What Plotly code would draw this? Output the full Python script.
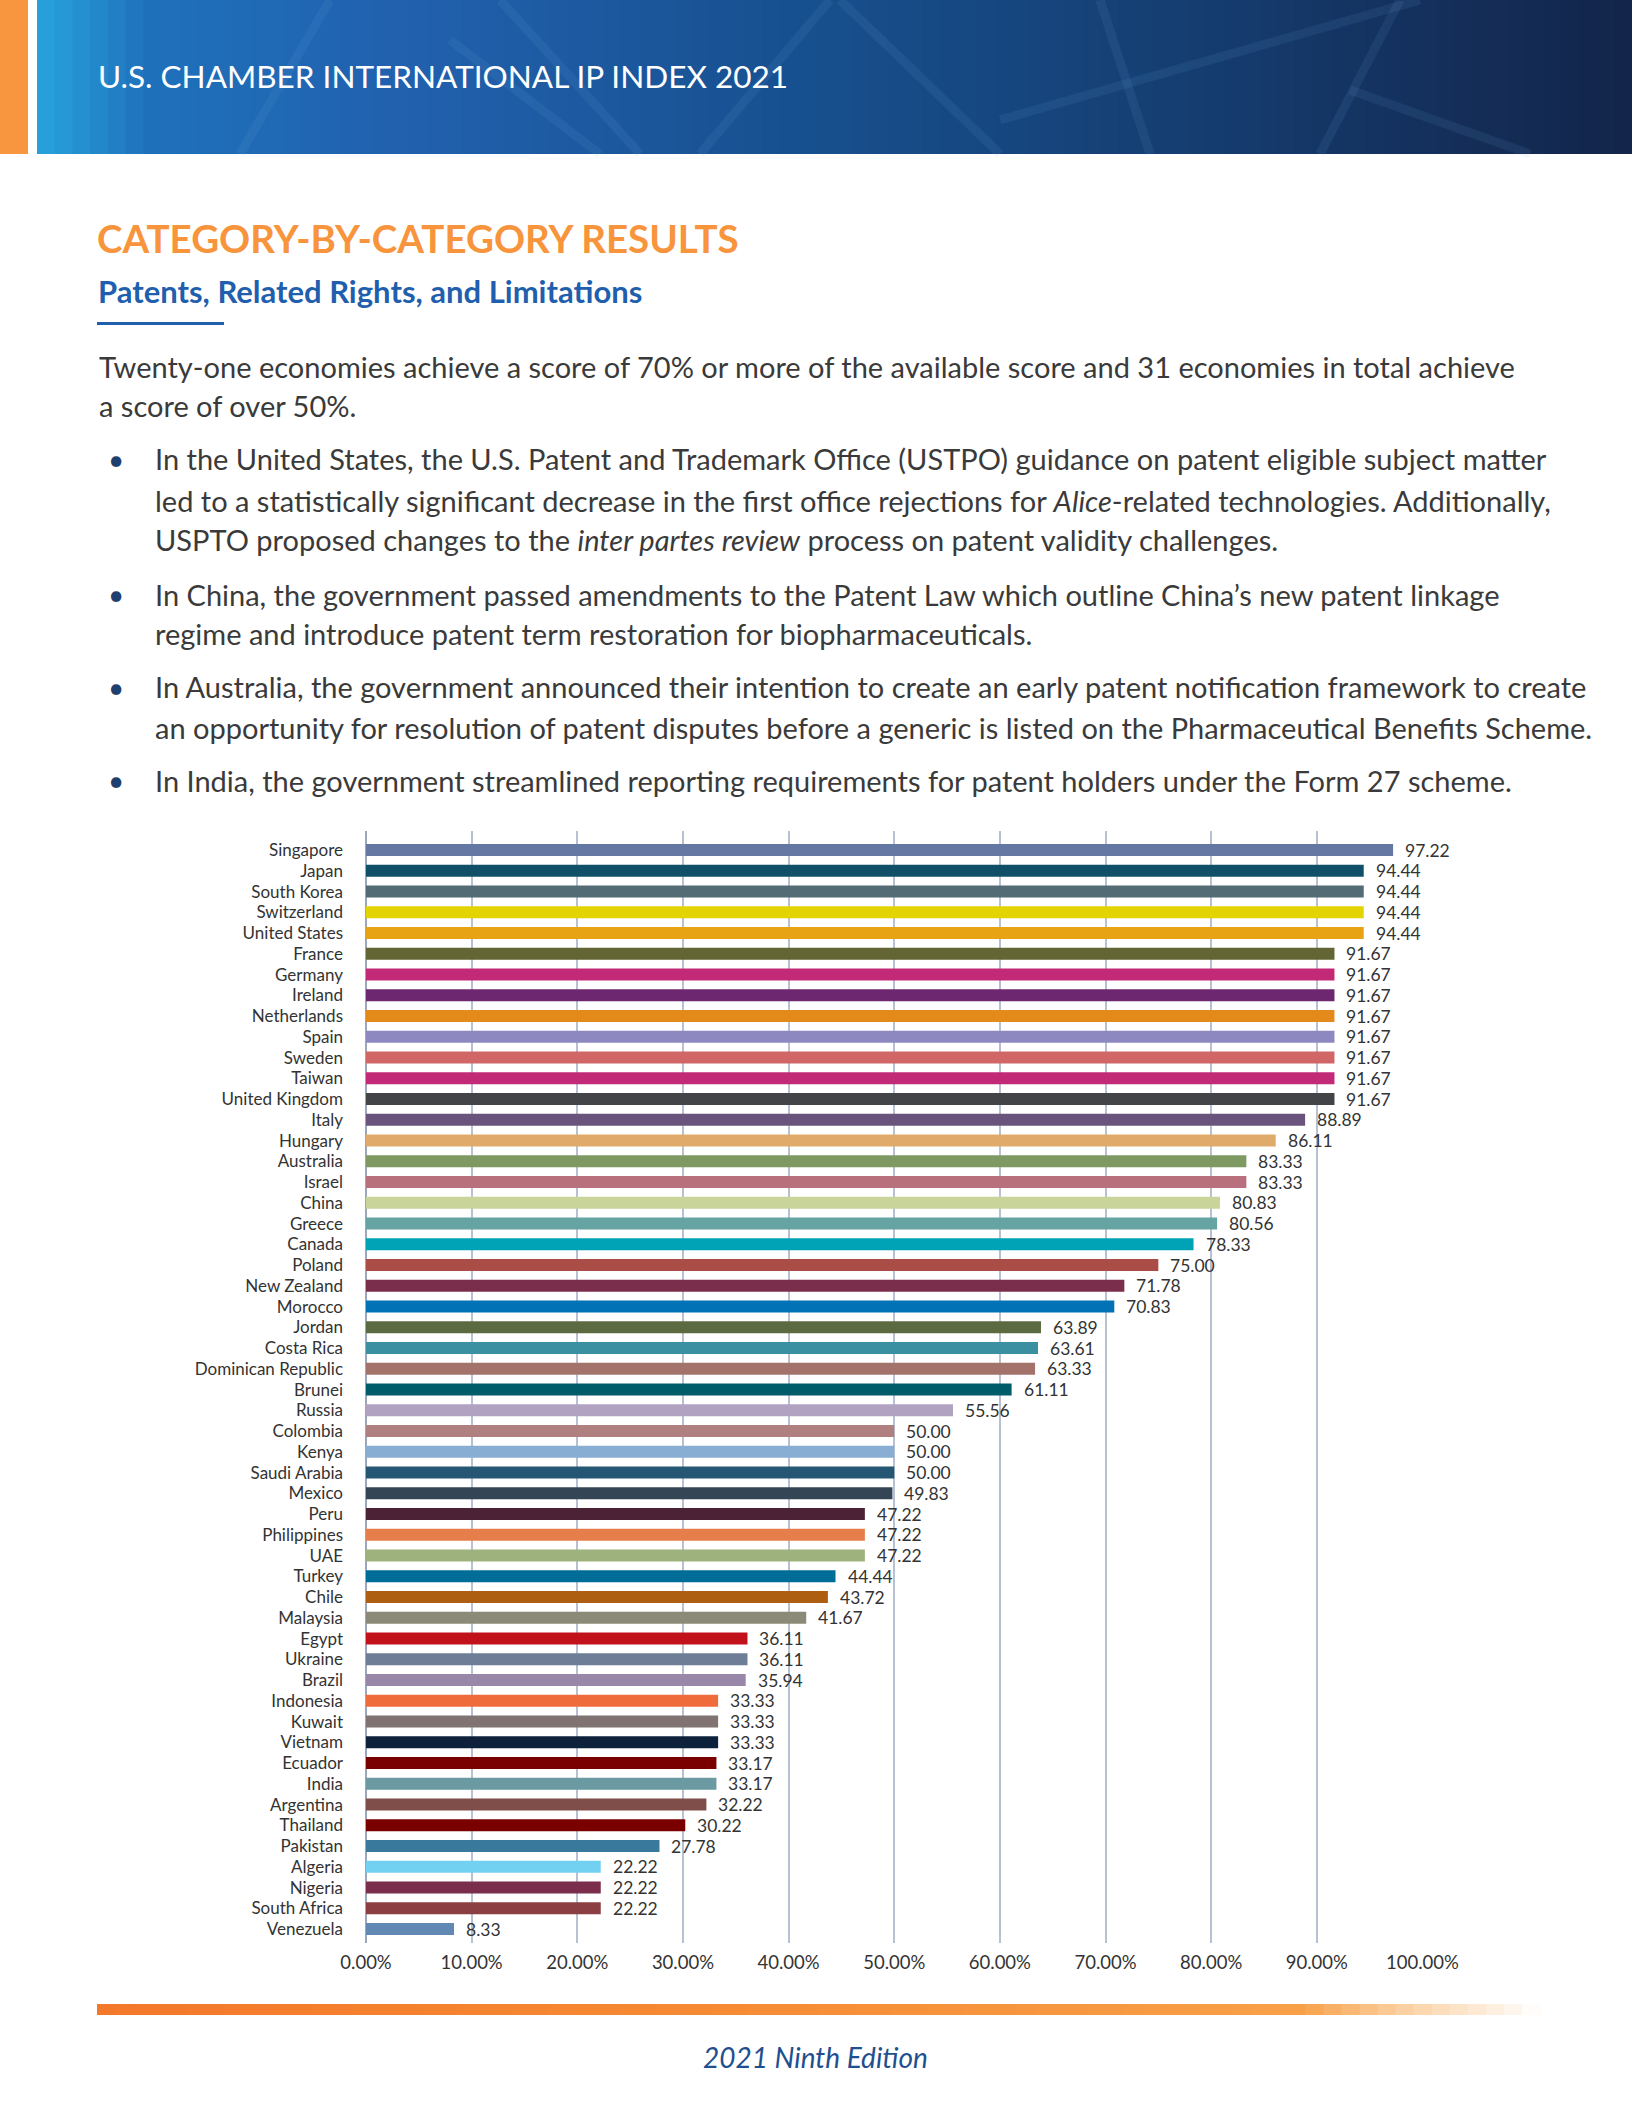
import plotly.graph_objects as go

countries = ["Singapore", "Japan", "South Korea", "Switzerland", "United States", "France",
             "Germany", "Ireland", "Netherlands", "Spain", "Sweden", "Taiwan", "United Kingdom",
             "Italy", "Hungary", "Australia", "Israel", "China", "Greece", "Canada", "Poland",
             "New Zealand", "Morocco", "Jordan", "Costa Rica", "Dominican Republic", "Brunei",
             "Russia", "Colombia", "Kenya", "Saudi Arabia", "Mexico", "Peru", "Philippines", "UAE",
             "Turkey", "Chile", "Malaysia", "Egypt", "Ukraine", "Brazil", "Indonesia", "Kuwait",
             "Vietnam", "Ecuador", "India", "Argentina", "Thailand", "Pakistan", "Algeria",
             "Nigeria", "South Africa", "Venezuela"]
scores = [97.22, 94.44, 94.44, 94.44, 94.44, 91.67, 91.67, 91.67, 91.67, 91.67, 91.67, 91.67,
          91.67, 88.89, 86.11, 83.33, 83.33, 80.83, 80.56, 78.33, 75.00, 71.78, 70.83, 63.89,
          63.61, 63.33, 61.11, 55.56, 50.00, 50.00, 50.00, 49.83, 47.22, 47.22, 47.22, 44.44,
          43.72, 41.67, 36.11, 36.11, 35.94, 33.33, 33.33, 33.33, 33.17, 33.17, 32.22, 30.22,
          27.78, 22.22, 22.22, 22.22, 8.33]
bar_colors = ["#6577a3", "#0f5068", "#526b74", "#e3d300", "#e8a314", "#636634", "#c22a78",
              "#6d2771", "#e38a1b", "#8d88c0", "#d06666", "#c22a78", "#434448", "#6a547e",
              "#e0ab6a", "#7f9963", "#b8707c", "#c8d49a", "#66a4a4", "#00a3b5", "#ab4d47",
              "#7a2e4c", "#0072b5", "#5b6a40", "#3a8fa0", "#a3736b", "#005c68", "#b0a2c0",
              "#b07f7f", "#89aed4", "#255673", "#344555", "#4c2236", "#e57e4b", "#9db27c",
              "#006c98", "#ad5e10", "#8b8a78", "#c1121c", "#6e7e97", "#9987a9", "#f06b3c",
              "#807372", "#0d213a", "#7a0000", "#6b9aa3", "#804e4a", "#7a0000", "#38799c",
              "#72d0f0", "#7a2e4c", "#8b3f42", "#6189b4"]
x_ticks = [0, 10, 20, 30, 40, 50, 60, 70, 80, 90, 100]
x_tick_labels = ["0.00%", "10.00%", "20.00%", "30.00%", "40.00%", "50.00%", "60.00%",
                 "70.00%", "80.00%", "90.00%", "100.00%"]

W, H = 1632, 2112
FONT = "Lato"


def px(x):
    return x / W


def py(y):
    return 1 - y / H


def hexrgb(h):
    h = h.lstrip("#")
    return tuple(int(h[i:i + 2], 16) for i in (0, 2, 4))


def interp(stops, x):
    for (x0, c0), (x1, c1) in zip(stops[:-1], stops[1:]):
        if x0 <= x <= x1:
            t = (x - x0) / (x1 - x0) if x1 > x0 else 0
            a, b = hexrgb(c0), hexrgb(c1)
            return "rgb(%d,%d,%d)" % tuple(round(a[i] + (b[i] - a[i]) * t) for i in range(3))
    return stops[-1][1]


fig = go.Figure(go.Bar(
    x=scores, y=countries, orientation="h", width=0.58,
    marker=dict(color=bar_colors, line=dict(width=0)),
    hoverinfo="skip",
))

shapes = []
# header band gradient
head_stops = [(36, "#28a5dd"), (150, "#1f70bb"), (420, "#2160ad"), (800, "#17508f"),
              (1200, "#153d70"), (1632, "#13244a")]
n = 90
x0, x1 = 37, 1632
for i in range(n):
    a = x0 + (x1 - x0) * i / n
    b = x0 + (x1 - x0) * (i + 1) / n
    shapes.append(dict(type="rect", xref="paper", yref="paper", x0=px(a), x1=px(min(b + 1, W)),
                       y0=py(154), y1=py(0), line=dict(width=0),
                       fillcolor=interp(head_stops, (a + b) / 2), layer="below"))
# faint decorative lines in header
for (ax, ay, bx, by) in [(330, 0, 240, 154), (500, 0, 640, 154), (700, 154, 830, 0),
                         (840, 0, 1000, 154), (1000, 120, 1420, 0), (1350, 90, 1530, 154),
                         (1100, 0, 1150, 154), (1400, 0, 1320, 154), (600, 154, 450, 40)]:
    shapes.append(dict(type="line", xref="paper", yref="paper", x0=px(ax), y0=py(ay),
                       x1=px(bx), y1=py(by), line=dict(color="rgba(120,180,230,0.10)", width=9),
                       layer="below"))
# orange stripe left
shapes.append(dict(type="rect", xref="paper", yref="paper", x0=0, x1=px(28), y0=py(154),
                   y1=1, line=dict(width=0), fillcolor="#f7963e", layer="below"))
# blue underline under subheading
shapes.append(dict(type="rect", xref="paper", yref="paper", x0=px(97), x1=px(224),
                   y0=py(325), y1=py(322), line=dict(width=0), fillcolor="#1f5fad"))
# bottom orange gradient bar
foot_stops = [(97, "#f4782a"), (700, "#f68a33"), (1300, "#f8a048"), (1400, "#fbcfa0"),
              (1540, "#ffffff")]
n = 80
x0, x1 = 97, 1540
for i in range(n):
    a = x0 + (x1 - x0) * i / n
    b = x0 + (x1 - x0) * (i + 1) / n
    shapes.append(dict(type="rect", xref="paper", yref="paper", x0=px(a), x1=px(b + 1),
                       y0=py(2015), y1=py(2004), line=dict(width=0),
                       fillcolor=interp(foot_stops, (a + b) / 2), layer="below"))

ann = []
ann.append(dict(text="U.S. CHAMBER INTERNATIONAL IP INDEX 2021", x=px(96), y=py(76),
                xanchor="left", yanchor="middle", font=dict(family=FONT, size=31.5, color="white")))
ann.append(dict(text="<b>CATEGORY-BY-CATEGORY RESULTS</b>", x=px(95), y=py(238),
                xanchor="left", yanchor="middle", font=dict(family=FONT, size=38.5, color="#f7943c")))
ann.append(dict(text="<b>Patents, Related Rights, and Limitations</b>", x=px(96), y=py(291),
                xanchor="left", yanchor="middle", font=dict(family=FONT, size=31, color="#1f5fad")))

body = [
    (97, 366, "Twenty-one economies achieve a score of 70% or more of the available score and 31 economies in total achieve", False),
    (97, 405, "a score of over 50%.", False),
    (153, 459, "In the United States, the U.S. Patent and Trademark Office (USTPO) guidance on patent eligible subject matter", True),
    (153, 500, "led to a statistically significant decrease in the first office rejections for <i>Alice</i>-related technologies. Additionally,", False),
    (153, 540, "USPTO proposed changes to the <i>inter partes review</i> process on patent validity challenges.", False),
    (153, 594, "In China, the government passed amendments to the Patent Law which outline China\u2019s new patent linkage", True),
    (153, 633, "regime and introduce patent term restoration for biopharmaceuticals.", False),
    (153, 687, "In Australia, the government announced their intention to create an early patent notification framework to create", True),
    (153, 727, "an opportunity for resolution of patent disputes before a generic is listed on the Pharmaceutical Benefits Scheme.", False),
    (153, 780, "In India, the government streamlined reporting requirements for patent holders under the Form 27 scheme.", True),
]
for (x, y, t, bullet) in body:
    ann.append(dict(text=t, x=px(x), y=py(y), xanchor="left", yanchor="middle",
                    font=dict(family=FONT, size=29, color="#3a3a3a")))
    if bullet:
        ann.append(dict(text="\u2022", x=px(116), y=py(y), xanchor="center", yanchor="middle",
                        font=dict(family=FONT, size=28, color="#1f3f6e")))

ann.append(dict(text="<i>2021 Ninth Edition</i>", x=px(815), y=py(2057), xanchor="center",
                yanchor="middle", font=dict(family=FONT, size=28, color="#1f4f8f")))

for k in ann:
    k.update(xref="paper", yref="paper", showarrow=False)

for c, v in zip(countries, scores):
    ann.append(dict(x=v, y=c, xref="x", yref="y", text=f"{v:.2f}", showarrow=False,
                    xanchor="left", yanchor="middle", xshift=10,
                    font=dict(family=FONT, size=17.5, color="#333333")))

fig.update_layout(
    width=W, height=H, autosize=False,
    margin=dict(l=0, r=0, t=0, b=0, pad=0, autoexpand=False),
    paper_bgcolor="white", plot_bgcolor="white", showlegend=False,
    shapes=shapes, annotations=ann,
    font=dict(family=FONT, color="#333333"),
    xaxis=dict(domain=[px(366), px(1423)], range=[0, 100.05], tickmode="array",
               tickvals=x_ticks, ticktext=x_tick_labels, showgrid=True, automargin=False,
               gridcolor="#b7c1d2", gridwidth=1.5, zeroline=True, zerolinecolor="#9ba7ba",
               zerolinewidth=2, ticks="", ticklabelstandoff=6,
               tickfont=dict(family=FONT, size=18.5, color="#333333"), fixedrange=True),
    yaxis=dict(domain=[py(1943), py(831)], range=[52.67, -0.92], type="category",
               categoryorder="array", categoryarray=countries, ticks="", automargin=False,
               ticklabelstandoff=22, showgrid=False, showline=False,
               tickfont=dict(family=FONT, size=17, color="#333333"), fixedrange=True),
)

fig.write_html("out.html", config={"displayModeBar": False, "responsive": False},
               post_script="document.body.style.margin='0';document.body.style.overflow='hidden';")
